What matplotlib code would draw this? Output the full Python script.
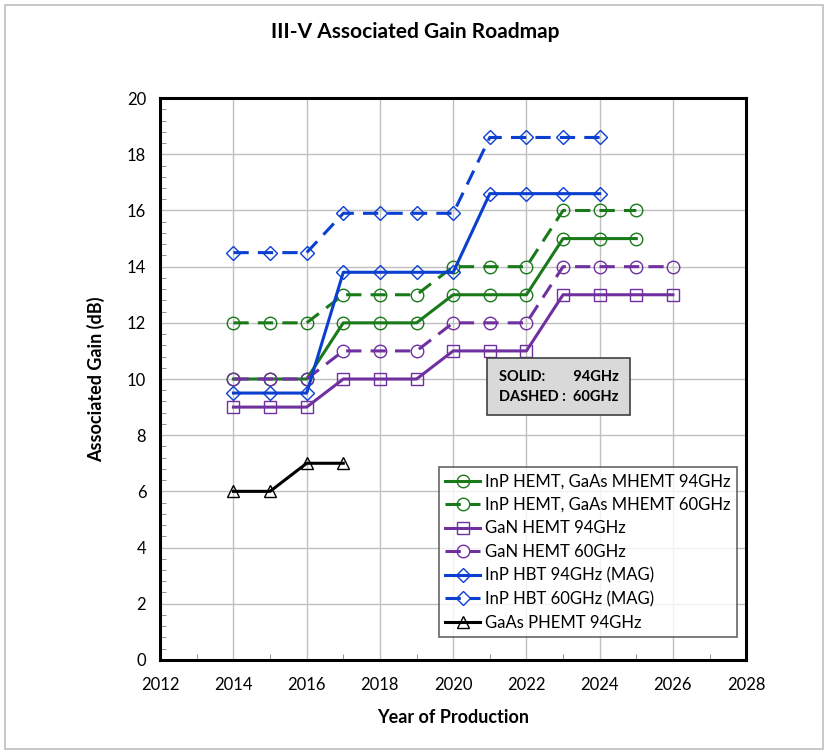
import matplotlib
matplotlib.use("Agg")
import matplotlib.pyplot as plt
from matplotlib.ticker import MultipleLocator
from matplotlib.patches import Rectangle

plt.rcParams['font.family'] = ['Lato', 'DejaVu Sans']

yrs_inp94 = [2014, 2015, 2016, 2017, 2018, 2019, 2020, 2021, 2022, 2023, 2024, 2025]
inp94 = [10, 10, 10, 12, 12, 12, 13, 13, 13, 15, 15, 15]
yrs_inp60 = [2014, 2015, 2016, 2017, 2018, 2019, 2020, 2021, 2022, 2023, 2024, 2025]
inp60 = [12, 12, 12, 13, 13, 13, 14, 14, 14, 16, 16, 16]
yrs_gan = [2014, 2015, 2016, 2017, 2018, 2019, 2020, 2021, 2022, 2023, 2024, 2025, 2026]
gan94 = [9, 9, 9, 10, 10, 10, 11, 11, 11, 13, 13, 13, 13]
gan60 = [10, 10, 10, 11, 11, 11, 12, 12, 12, 14, 14, 14, 14]
yrs_hbt = [2014, 2015, 2016, 2017, 2018, 2019, 2020, 2021, 2022, 2023, 2024]
hbt94 = [9.5, 9.5, 9.5, 13.8, 13.8, 13.8, 13.8, 16.6, 16.6, 16.6, 16.6]
hbt60 = [14.5, 14.5, 14.5, 15.9, 15.9, 15.9, 15.9, 18.6, 18.6, 18.6, 18.6]
yrs_phemt = [2014, 2015, 2016, 2017]
phemt94 = [6, 6, 7, 7]

green = '#1a7a1a'
purple = '#7030a0'
blue = '#0a3fd0'

fig = plt.figure(figsize=(8.3, 7.55), dpi=100)
ax = fig.add_axes([0.193, 0.126, 0.706, 0.744])

lw = 2.2
ms = 9
dash = (5, 3)

ax.plot(yrs_inp94, inp94, color=green, lw=lw, marker='o', ms=ms, mfc='none',
        mew=1.0, label='InP HEMT, GaAs MHEMT 94GHz')
ax.plot(yrs_inp60, inp60, color=green, lw=lw, ls='--', dashes=dash, marker='o', ms=ms,
        mfc='none', mew=1.0, label='InP HEMT, GaAs MHEMT 60GHz')
ax.plot(yrs_gan, gan94, color=purple, lw=lw, marker='s', ms=ms, mfc='none',
        mew=1.0, label='GaN HEMT 94GHz')
ax.plot(yrs_gan, gan60, color=purple, lw=lw, ls='--', dashes=dash, marker='o', ms=ms,
        mfc='none', mew=1.0, label='GaN HEMT 60GHz')
ax.plot(yrs_hbt, hbt94, color=blue, lw=lw, marker='D', ms=7, mfc='none',
        mew=1.0, label='InP HBT 94GHz (MAG)')
ax.plot(yrs_hbt, hbt60, color=blue, lw=lw, ls='--', dashes=dash, marker='D', ms=7,
        mfc='none', mew=1.0, label='InP HBT 60GHz (MAG)')
ax.plot(yrs_phemt, phemt94, color='black', lw=lw, marker='^', ms=ms, mfc='none',
        mew=1.0, label='GaAs PHEMT 94GHz')

ax.set_xlim(2012, 2028)
ax.set_ylim(0, 20)
ax.xaxis.set_major_locator(MultipleLocator(2))
ax.xaxis.set_minor_locator(MultipleLocator(1))
ax.yaxis.set_major_locator(MultipleLocator(2))
ax.yaxis.set_minor_locator(MultipleLocator(0.4))
ax.grid(True, which='major', color='#c0c0c0', lw=1.0)
ax.set_axisbelow(True)
ax.tick_params(which='major', length=0, labelsize=12, pad=12)
ax.tick_params(axis='y', which='major', pad=10)
ax.tick_params(which='minor', direction='in', length=4, color='#808080')
for s in ax.spines.values():
    s.set_linewidth(2.2)

ax.set_xlabel('Year of Production', fontsize=13, fontweight='bold', labelpad=12)
ax.set_ylabel('Associated Gain (dB)', fontsize=13, fontweight='bold', labelpad=16)
fig.text(0.5, 0.957, 'III-V Associated Gain Roadmap', ha='center', va='center',
         fontsize=15, fontweight='bold')

leg = ax.legend(loc='lower right', bbox_to_anchor=(0.985, 0.04), fontsize=12,
                frameon=True, fancybox=False, handlelength=2.1, handletextpad=0.3,
                borderpad=0.4, labelspacing=0.45, borderaxespad=0.0)
leg.get_frame().set_edgecolor('#404040')
leg.get_frame().set_linewidth(1.2)

ax.text(0.578, 0.486, 'SOLID:        94GHz\nDASHED :  60GHz', transform=ax.transAxes,
        fontsize=10.5, fontweight='bold', va='center', ha='left', linespacing=1.5,
        bbox=dict(boxstyle='square,pad=0.8', fc='#d9d9d9', ec='#404040', lw=1.2))

fig.patches.append(Rectangle((0.006, 0.008), 0.986, 0.985, transform=fig.transFigure,
                             fill=False, ec='#bfbfbf', lw=1.2))

fig.savefig('out.png', dpi=100)
